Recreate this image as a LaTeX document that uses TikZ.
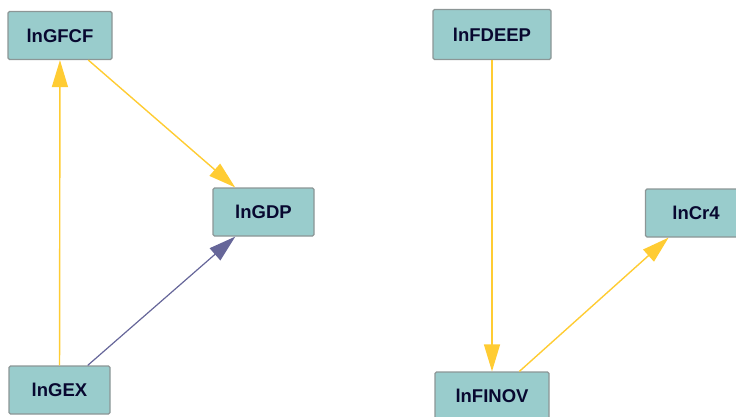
\documentclass[tikz,border=0pt]{standalone}
\usepackage{fontspec}
\setmainfont{Liberation Sans}
\usetikzlibrary{arrows.meta}
\definecolor{varfill}{RGB}{153,204,204}
\definecolor{varline}{RGB}{140,150,150}
\definecolor{vartext}{RGB}{8,8,48}
\definecolor{linkgold}{RGB}{255,204,51}
\definecolor{linkpurple}{RGB}{102,102,153}

\begin{document}
\begin{tikzpicture}[
      x=1pt, y=-1pt,
      varbox/.style={draw=varline, fill=varfill, line width=1.2pt, rounded corners=1.5pt, minimum height=48pt, inner sep=0pt, text=vartext, font=\fontsize{18.5}{21}\selectfont\bfseries},
      goldlink/.style={draw=linkgold, line width=1.4pt, -{Triangle[length=27pt,width=16pt]}},
      purplelink/.style={draw=linkpurple, line width=1.2pt, -{Triangle[length=27pt,width=16pt]}}
    ]
      \useasboundingbox (0,0) rectangle (736,417);

      % left group
      \node[varbox, minimum width=104pt] (gfcf) at (60,35.5) {lnGFCF};
      \node[varbox, minimum width=101pt] (gdp) at (263.5,212) {lnGDP};
      \node[varbox, minimum width=101pt] (gex) at (59.5,390) {lnGEX};

      % right group
      \node[varbox, minimum width=118pt, minimum height=50pt] (fdeep) at (492,34.5) {lnFDEEP};
      \node[varbox, minimum width=101pt] (cr4) at (696,213) {lnCr4};
      \node[varbox, minimum width=114pt] (finov) at (492,396) {lnFINOV};

      % links
      \draw[goldlink] (gex) -- (gfcf);
      \draw[goldlink] (gfcf) -- (gdp);
      \draw[purplelink] (gex) -- (gdp);
      \draw[goldlink] (fdeep) -- (finov);
      \draw[goldlink] (finov) -- (cr4);
    \end{tikzpicture}
\end{document}
